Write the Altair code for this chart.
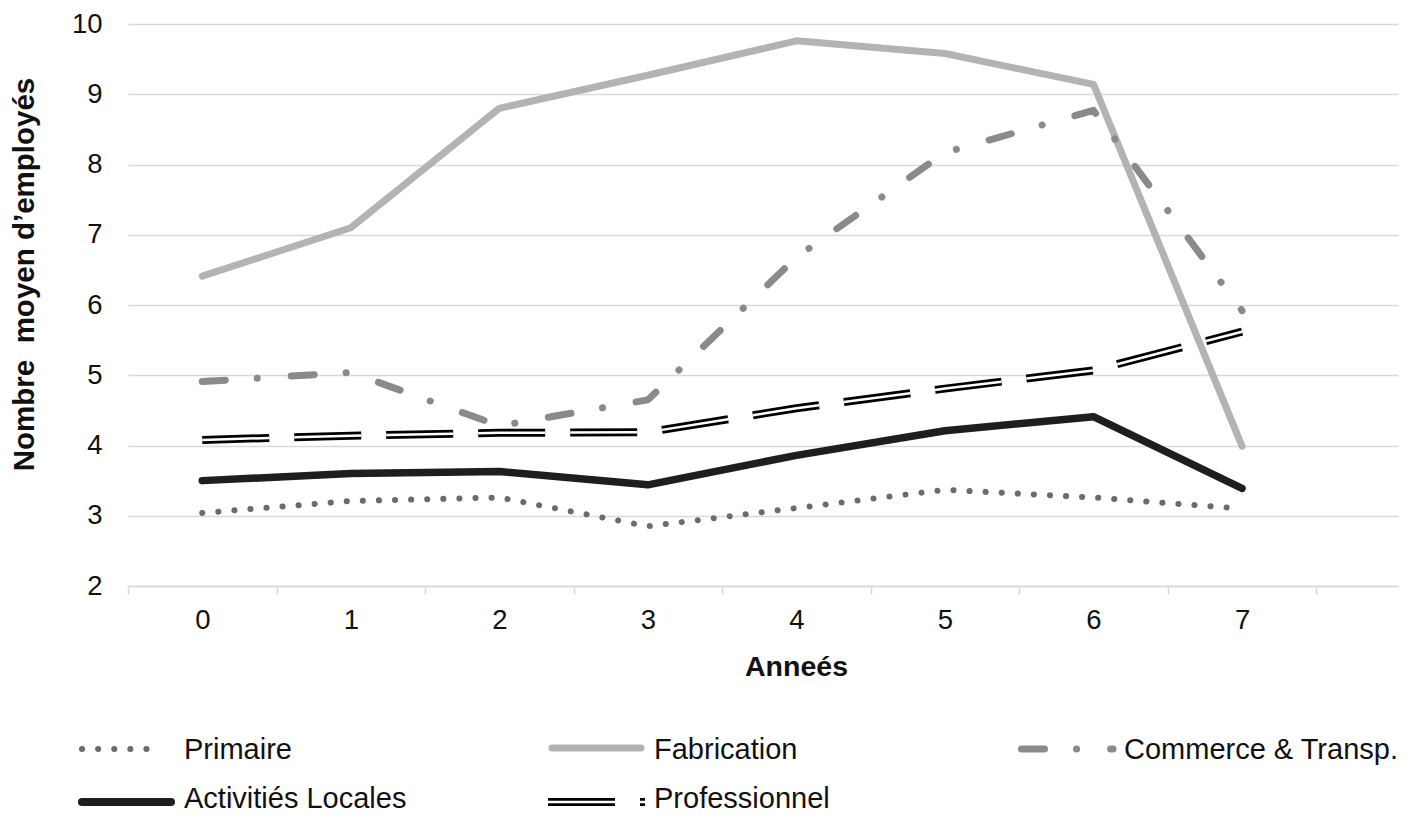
import altair as alt
import pandas as pd

# ---- data ----
years = [0, 1, 2, 3, 4, 5, 6, 7]
series_names = ["Primaire", "Fabrication", "Commerce & Transp.", "Activitiés Locales", "Professionnel"]
primaire = [3.04, 3.21, 3.26, 2.85, 3.11, 3.37, 3.26, 3.10]
fabrication = [6.41, 7.10, 8.80, 9.27, 9.76, 9.58, 9.14, 3.99]
commerce = [4.91, 5.04, 4.28, 4.65, 6.68, 8.17, 8.77, 5.92]
activites = [3.50, 3.60, 3.63, 3.44, 3.86, 4.21, 4.41, 3.39]
professionnel = [4.08, 4.14, 4.18, 4.19, 4.53, 4.81, 5.07, 5.62]
y_ticks = [2, 3, 4, 5, 6, 7, 8, 9, 10]
x_title = "Anneés"
y_title = "Nombre \u00a0moyen d’employés"

values = [primaire, fabrication, commerce, activites, professionnel]
rows = []
for name, vals in zip(series_names, values):
    for x, v in zip(years, vals):
        rows.append({"serie": name, "annee": x, "valeur": v})
df = pd.DataFrame(rows)

FONT = "Liberation Sans"
W, H = 1270, 562
GRID = "#d9d9d9"
TXT = "#111111"

x_bounds = [y - 0.5 for y in years] + [years[-1] + 0.5]
x_scale = alt.Scale(domain=[-0.5, 8.05], nice=False, zero=False)

label_axis = alt.Axis(
    orient="bottom",
    values=years,
    format="d",
    grid=False,
    ticks=False,
    domain=False,
    labelFlush=False,
    labelOverlap=False,
    labelFontSize=27.5,
    labelFont=FONT,
    labelColor=TXT,
    labelPadding=20,
    title=x_title,
    titleFont=FONT,
    titleFontSize=28.5,
    titleFontWeight="bold",
    titleColor=TXT,
    titleX=668,
    titleY=89,
    titleBaseline="alphabetic",
    titleAlign="center",
)
tick_axis = alt.Axis(
    orient="bottom",
    values=x_bounds,
    labels=False,
    grid=False,
    ticks=True,
    tickSize=8,
    tickColor=GRID,
    tickWidth=1.5,
    domainColor=GRID,
    domainWidth=1.5,
    title=None,
)

y_enc = alt.Y(
    "valeur:Q",
    scale=alt.Scale(domain=[2, 10], nice=False, zero=False),
    axis=alt.Axis(
        values=y_ticks,
        grid=True,
        gridColor=GRID,
        gridWidth=1.5,
        domain=False,
        ticks=False,
        labelFontSize=27.5,
        labelFont=FONT,
        labelColor=TXT,
        labelPadding=26,
        title=y_title,
        titleFont=FONT,
        titleFontSize=29.5,
        titleFontWeight="bold",
        titleColor=TXT,
        titleX=-95,
        titleY=250,
        titleAngle=270,
        titleAlign="center",
        titleBaseline="alphabetic",
    ),
)


def serie(name, axis=None):
    return alt.Chart(df).transform_filter(alt.datum.serie == name).encode(
        x=alt.X("annee:Q", scale=x_scale, axis=axis), y=y_enc
    )


DOT = [0.1, 16]
DASHDOT = [23, 32, 0.1, 34]
DASH = [67, 25]

l_prim = serie("Primaire", tick_axis).mark_line(color="#6b6b6b", strokeWidth=6, strokeDash=DOT, strokeCap="round")
l_fab = serie("Fabrication", label_axis).mark_line(color="#b3b3b3", strokeWidth=7, strokeCap="round", strokeJoin="round")
l_com = serie("Commerce & Transp.").mark_line(color="#8a8a8a", strokeWidth=7, strokeDash=DASHDOT, strokeCap="round", strokeJoin="round")
l_act = serie("Activitiés Locales").mark_line(color="#1e1e1e", strokeWidth=7.5, strokeCap="round", strokeJoin="round")
l_pro_o = serie("Professionnel").mark_line(color="#000000", strokeWidth=8, strokeDash=DASH, strokeCap="butt")
l_pro_i = serie("Professionnel").mark_line(color="#ffffff", strokeWidth=2.5, strokeDash=DASH, strokeCap="butt")

# ---- custom legend (pixel positions relative to plot origin) ----
one = pd.DataFrame({"d": [0]})


def leg_rule(x1, x2, y, **kw):
    return alt.Chart(one).mark_rule(**kw).encode(x=alt.value(x1), x2=alt.value(x2), y=alt.value(y))


def leg_text(label, x, y):
    return alt.Chart(one).mark_text(
        text=label, align="left", baseline="alphabetic", font=FONT, fontSize=29, color=TXT
    ).encode(x=alt.value(x), y=alt.value(y))


R1, R2 = 725, 778
B1, B2 = 735, 784
legend = [
    leg_rule(-46, 34, R1, color="#6b6b6b", strokeWidth=6, strokeDash=DOT, strokeCap="round"),
    leg_text(series_names[0], 56, B1),
    leg_rule(424, 513, R1 - 1, color="#b3b3b3", strokeWidth=7, strokeCap="round"),
    leg_text(series_names[1], 526, B1),
    leg_rule(893.5, 985, R1, color="#8a8a8a", strokeWidth=7, strokeDash=DASHDOT, strokeCap="round"),
    leg_text(series_names[2], 996, B1),
    leg_rule(-46, 43, R2, color="#1e1e1e", strokeWidth=8, strokeCap="round"),
    leg_text(series_names[3], 56, B2),
    leg_rule(420, 517, R2, color="#000000", strokeWidth=8, strokeDash=DASH, strokeCap="butt"),
    leg_rule(420, 517, R2, color="#ffffff", strokeWidth=2.5, strokeDash=DASH, strokeCap="butt"),
    leg_text(series_names[4], 526, B2),
]

chart = alt.layer(
    l_prim, l_fab, l_com, l_act, l_pro_o, l_pro_i, *legend
).resolve_axis(x="independent").properties(
    width=W,
    height=H,
    autosize=alt.AutoSizeParams(type="none"),
    padding={"left": 120, "top": 16, "right": 10, "bottom": 228},
    background="white",
).configure_view(stroke=None)

chart.save("out.html", embed_options={"renderer": "svg", "actions": False})
